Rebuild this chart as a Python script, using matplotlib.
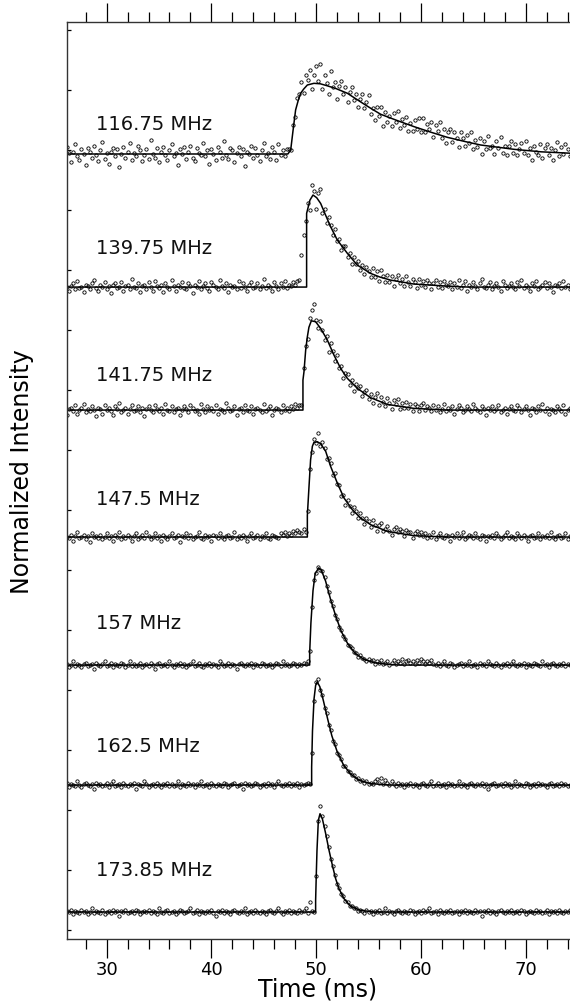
import matplotlib.pyplot as plt
import numpy as np
from matplotlib.ticker import MultipleLocator

plt.rcParams['font.family'] = ['DejaVu Sans']

# sampling step of the profiles (ms)
dt = 0.2

labels = ['116.75 MHz', '139.75 MHz', '141.75 MHz', '147.5 MHz',
          '157 MHz', '162.5 MHz', '173.85 MHz']
# vertical offsets of each profile (intensity units)
offsets = [6.467, 5.358, 4.333, 3.275, 2.208, 1.208, 0.15]
# time of first sample in each pulse list (ms)
pulse_start = [47.4, 48.4, 48.6, 48.8, 49.4, 49.6, 50.0]

# ---- measured points, in hundredths of the intensity unit ----
# 116.75 MHz
pre1 = [3, -4, 6, 1, -7, 2, 8, -2, -5, 4, 0, -9, 5, 2, -3, 7, -1, -6, 3, 10,
        -4, 1, -8, 2, 5, -2, 4, -11, 0, 6, -3, 2, 9, -5, 1, -2, 7, 3, -6, -1,
        4, -4, 12, 0, -3, 5, -7, 2, 6, -1, -5, 3, 8, -2, 1, -9, 4, 0, 6, -4,
        2, 7, -3, -6, 5, 1, -1, 9, -2, 3, -8, 4, 0, -5, 6, 2, -3, 11, -1, -4,
        5, 3, -7, 1, 6, -2, 4, -10, 2, 0, 7, -3, 5, -1, -6, 3, 9, -2, 1, -4,
        6, 2, -5, 8, -1, 3, -2, 4]
pulse1 = [4, 3, 24, 31, 47, 50, 60, 51, 66, 62, 70, 54, 66, 73, 61, 75, 54, 66,
          59, 50, 69, 56, 60, 46, 57, 61, 50, 56, 43, 52, 56, 45, 50, 39, 46, 50,
          38, 43, 49, 33, 38, 28, 39, 32, 39, 23, 35, 27, 32, 23, 34, 27, 36, 22,
          29, 24, 31, 19, 26, 19, 28, 21, 30, 18, 30, 18, 25, 21, 27, 14, 24, 19,
          27, 13, 21, 9, 18, 21, 10, 18, 13, 6, 18, 13, 7, 16, 9, 18, 4, 12, 6,
          13, 0, 11, 4, 15, 5, 7, 0, 11, 5, 14, 1, 7, -1, 7, 11, 1, 8, -1, 4, 9,
          1, 11, -1, 5, -5, 7, 2, -1, 8, -3, 5, 8, -1, 5, -5, 3, 10, -2, 6, 0, 8,
          4, -2, 6]
post1 = []

# 139.75 MHz
pre2 = [2, -1, 4, 0, -3, 1, 3, -2, 5, -1, 0, -4, 2, 1, -2, 3, 6, -1, -3, 2,
        0, 4, -2, 1, -5, 2, 3, -1, 0, 4, -3, 1, 2, -2, 7, 0, -1, 3, -4, 1,
        2, -2, 4, 0, -3, 5, 1, -1, 2, -4, 3, 0, -2, 6, 1, -3, 2, 0, 4, -1,
        -2, 3, 1, -5, 2, 0, 5, -2, 1, 3, -1, -3, 4, 2, 0, -2, 6, 1, -1, 3,
        -4, 2, 0, 1, -2, 5, -1, 3, 0, -3, 2, 4, -1, 0, 3, -2, 1, 7, -1, 2,
        0, -3, 4, 1, -2, 3, 0, 5, -1, 2, 1, 4, 2, 5]
pulse2 = [6, 27, 43, 55, 70, 64, 85, 80, 65, 78, 82, 62, 65, 53, 58, 52, 43, 48,
          38, 40, 31, 34, 34, 25, 28, 19, 25, 19, 22, 14, 18, 11, 17, 13, 8, 16,
          8, 13, 5, 14, 9, 4, 10, 4, 9, 1, 7, 10, 3, 7, 1, 9, 4, 1, 7, 4, -1, 7,
          2, 5, 0, 6, 3, -2, 3, 6, 0, 4, -1, 5, 2]
post2 = [1, 4, -2, 3, 0, 6, -1, 2, 5, -3, 2, 0, 4, 1, -2, 3, 7, 0, -1, 2,
         4, -2, 1, 3, 0, -3, 5, 2, -1, 1, 3, 0, -2, 4, 1, 6, -1, 2, 0, -3,
         3, 1, 5, -2, 0, 2, 4, -1, 3, 0, -4, 2, 1, 3, -1, 5, 0, 2, -2, 4,
         1, -3, 2, 0]

# 141.75 MHz
pre3 = [-2, 3, 0, -4, 1, 2, -1, 4, -3, 0, 2, 5, -2, 1, -1, 3, 0, -5, 2, 1,
        -3, 4, 0, 2, -1, -4, 3, 1, 6, -2, 0, 2, -3, 1, 4, -1, 0, 3, -2, 2,
        -5, 1, 3, 0, -2, 4, 1, -1, 2, -3, 5, 0, -1, 3, -2, 1, 2, -4, 0, 3,
        1, -2, 4, 2, -1, 0, -3, 5, 1, -2, 3, 0, 2, -1, 4, -3, 1, 0, -2, 6,
        2, -1, 0, 3, -4, 1, 2, -2, 4, 0, -1, 3, -3, 1, 2, 0, -2, 5, -1, 1,
        3, -4, 0, 2, 1, -2, 4, 0, 2, -1, 3, 1, 5, 2, 4]
pulse3 = [4, 35, 53, 59, 77, 83, 88, 75, 68, 74, 67, 58, 62, 48, 56, 49, 41, 46,
          35, 37, 27, 31, 30, 21, 25, 16, 22, 18, 20, 12, 15, 17, 9, 13, 6, 11,
          14, 4, 11, 7, 3, 10, 6, 1, 8, 5, 9, 1, 6, 2, 7, 2, 5, -1, 5, 3, -1, 4,
          6, 0, 3]
post3 = [2, -1, 4, 0, 3, -2, 1, 5, -1, 2, 0, 3, -3, 1, 4, 2, -2, 0, 3, 1,
         -1, 5, 2, 0, -2, 3, 1, -4, 2, 0, 3, -1, 1, 4, -2, 0, 2, -3, 1, 3,
         0, -1, 4, 2, -2, 1, 3, 0, -4, 2, 1, -2, 3, 0, 5, -1, 2, -3, 1, 0,
         -2, 3, 1, -1, 4, -3, 0, 2, 1, -2, 3, -1]

# 147.5 MHz
pre4 = [1, -2, 3, 0, -1, 2, -3, 1, 4, -1, 0, 2, -2, 1, -4, 3, 0, 1, -1, 2,
        -2, 0, 3, -1, 1, -3, 2, 0, 4, -2, 1, -1, 2, 0, -3, 1, 3, -2, 0, 2,
        -1, 4, 1, -2, 0, 3, -1, 1, -3, 2, 0, -2, 1, 3, -1, 0, 2, -4, 1, 0,
        3, -1, 2, -2, 0, 1, 4, -1, -2, 2, 0, 1, -3, 2, 1, -1, 3, 0, -2, 1,
        2, -1, 0, 4, -2, 1, -1, 2, 0, -3, 1, 3, -1, 0, 2, -2, 1, 0, 3, -1,
        -2, 2, 1, 0, -1, 3, 2, 4, 1, 3, 2, 5, 3, 6, 4, 3]
pulse4 = [7, 4, 22, 57, 71, 82, 78, 87, 76, 79, 74, 65, 66, 62, 52, 53, 44, 43,
          34, 35, 27, 31, 26, 20, 25, 22, 16, 20, 16, 11, 16, 13, 8, 14, 10, 5,
          10, 12, 5, 7, 9, 5, 2, 7, 8, 4, 7, 5, 1, 6, 4, 4, -1, 3, 5, 2, 4]
post4 = [1, 3, -1, 2, 0, 4, -2, 1, 3, 0, -1, 2, 1, -3, 2, 0, 3, -1, 1, 4,
         -2, 0, 2, 1, -1, 3, 0, -2, 2, 1, -3, 1, 0, 2, -1, 3, 1, -2, 0, 2,
         4, -1, 1, 0, -2, 3, 1, -1, 2, 0, -3, 1, 2, -1, 0, 3, -2, 1, 0, 2,
         -1, 4, 0, -2, 1, 2, -1, 0, 3, -2, 1, 0, 2, -1, 1]

# 157 MHz
pre5 = [0, 2, -1, 1, -2, 0, 3, -1, 1, 0, -2, 1, 2, -1, 0, 1, -3, 2, 0, -1,
        1, 3, -1, 0, 2, -2, 1, 0, -1, 2, 1, -2, 0, 3, -1, 1, -1, 0, 2, -2,
        0, 1, -1, 2, 0, -3, 1, 2, -1, 0, 1, -1, 3, 0, -2, 1, 0, 2, -1, 1,
        -2, 0, 1, 3, -1, 0, 2, -1, -2, 1, 0, 2, -1, 1, 0, -2, 3, 1, -1, 0,
        2, -1, 1, 0, -3, 1, 2, 0, -1, 1, 0, 2, -2, 1, 0, -1, 2, 1, -1, 0,
        1, -2, 0, 2, 1, -1, 3, 0, 1, -1, 0, 2, 1, -1, 1, 0, 2, 1, 3]
pulse5 = [12, 48, 71, 77, 82, 79, 78, 73, 66, 61, 53, 49, 42, 38, 32, 29, 24,
          22, 17, 16, 14, 11, 10, 7, 8, 6, 5, 3, 5, 3, 4, 1, 3, 2, 4, 1, 2, 3, 0]
post5 = [2, 4, 1, 3, 2, 5, 1, 3, 4, 2, 3, 1, 4, 2, 5, 3, 1, 3, 2, 4,
         1, 0, 2, -1, 1, 3, 0, -1, 2, 1, -2, 0, 1, 2, -1, 1, 0, 3, -1, 0,
         1, -2, 2, 0, 1, -1, 3, 1, 0, -1, 2, 0, -2, 1, 0, 2, -1, 1, 3, 0,
         -1, 1, 0, 2, -2, 1, 0, -1, 2, 1, 0, -1, 3, 0, 1, -2, 1, 2, 0, -1,
         1, 0, 2, -1, 1, 0, -2, 2, 1, 0]

# 162.5 MHz
pre6 = [1, -1, 0, 2, -2, 1, 0, -1, 3, 0, -2, 1, 2, 0, -1, 1, -3, 2, 0, 1,
        -1, 0, 2, -2, 1, 3, -1, 0, 1, -2, 2, 0, -1, 1, 0, 2, -3, 1, 0, -1,
        3, 1, -2, 0, 1, -1, 2, 0, -2, 1, 0, 2, -1, 1, -1, 0, 3, -2, 1, 0,
        -1, 2, 0, 1, -2, 1, 0, 3, -1, 0, 1, -2, 2, 0, -1, 1, 0, -1, 2, 1,
        -2, 0, 1, 2, -1, 0, 1, -3, 2, 0, 1, -1, 0, 2, 1, -2, 0, 1, -1, 2,
        0, 1, -2, 1, 3, 0, -1, 1, 0, 2, -1, 1, 0, 2, -2, 1, 0, 1, 2, 1]
pulse6 = [27, 70, 86, 88, 79, 75, 64, 60, 50, 46, 37, 34, 27, 25, 22, 16, 16,
          12, 11, 8, 8, 5, 6, 3, 4, 2, 3, 1, 2, 1]
post6 = [3, 5, 2, 6, 1, 4, 2, 0, 3, 1, -1, 2, 0, 1, -2, 1, 0, 2, -1, 1,
         0, -2, 1, 2, 0, -1, 1, 3, -1, 0, 2, -1, 0, 1, -2, 2, 0, 1, -1, 0,
         3, -1, 1, 0, -2, 1, 2, 0, -1, 1, 0, 2, -1, 1, -3, 0, 1, 2, -1, 0,
         1, -1, 2, 0, 1, -2, 0, 3, -1, 1, 0, -1, 2, 1, -2, 0, 1, -1, 2, 0,
         1, 0, -2, 1, 2, -1, 0, 1, -1, 2, 0, 1, -1, 0, 2, -2, 1, 0]

# 173.85 MHz
pre7 = [-1, 1, 0, 2, -2, 1, 0, -1, 2, 0, 1, -2, 0, 3, -1, 1, 0, -1, 2, -2,
        0, 1, -1, 2, 0, 1, -3, 1, 0, 2, -1, 0, 1, -1, 2, 1, -2, 0, 1, 0,
        2, -1, 1, 0, -2, 3, 0, -1, 1, 2, -1, 0, 1, -2, 0, 2, 1, -1, 0, 1,
        3, -1, 0, 2, -2, 1, 0, -1, 1, 0, 2, -1, -3, 1, 0, 2, -1, 1, 0, -2,
        1, 2, 0, -1, 1, 0, 3, -2, 0, 1, -1, 2, 0, -1, 1, 0, -2, 1, 2, 0,
        -1, 1, 3, 0, -2, 1, 0, 2, -1, 1, 0, -1, 2, 0, 1, 3, -1, 8, 1, 0]
pulse7 = [30, 76, 88, 80, 72, 63, 54, 44, 38, 31, 23, 20, 15, 13, 9, 8, 5, 5,
          3, 3, 1, 2]
post7 = [1, -1, 2, 0, 1, -2, 1, 0, 2, -1, 0, 3, -1, 1, 0, -2, 1, 2, 0, -1,
         1, 0, -1, 2, 1, -2, 0, 1, -1, 2, 0, 1, 3, -1, 0, 1, -2, 2, 0, -1,
         1, 0, 2, -1, 0, 1, -2, 1, 0, 2, -1, 1, 0, -1, 2, 0, 1, -3, 1, 0,
         2, -1, 1, 0, -2, 1, 2, 0, -1, 1, 0, 2, -1, 0, 1, -1, 2, 1, -2, 0,
         1, 0, -1, 2, 0, 1, -1, 0, 2, -2, 1, 0, 1, -1, 2, 0, -1, 1, 0, 2,
         -1, 1, 0, 2]

# ---- fitted profiles (ms, intensity) ----
fit1_t = [26.0, 47.3, 47.57, 47.8, 48.04, 48.3, 48.52, 48.8, 49.16, 49.79, 50.4,
          51.0, 51.9, 52.98, 53.7, 54.5, 55.3, 56.16, 57.7, 59.34, 60.9, 62.52,
          64.1, 65.7, 67.3, 68.88, 71.5, 74.6]
fit1_v = [0, 0, 0.033, 0.2, 0.367, 0.45, 0.506, 0.54, 0.575, 0.589, 0.585,
          0.57, 0.545, 0.506, 0.465, 0.42, 0.376, 0.331, 0.28, 0.228, 0.183,
          0.139, 0.106, 0.075, 0.057, 0.039, 0.018, 0.005]
fit2_t = [26.0, 49.09, 49.09, 49.41, 49.7, 50.05, 50.43, 50.9, 51.38, 52.02,
          52.98, 53.93, 55.2, 56.1, 57.11, 59.34, 62.52, 64.5, 74.6]
fit2_v = [0, 0, 0.614, 0.725, 0.767, 0.745, 0.697, 0.6, 0.503, 0.392, 0.281,
          0.183, 0.114, 0.083, 0.058, 0.025, 0.008, 0, 0]
fit3_t = [26.0, 48.74, 48.74, 48.84, 49.0, 49.16, 49.31, 49.54, 49.95, 50.43,
          51.07, 51.7, 52.34, 52.98, 53.93, 55.2, 56.8, 59.34, 62.52, 74.6]
fit3_v = [0, 0, 0.25, 0.32, 0.5, 0.61, 0.69, 0.744, 0.736, 0.681, 0.583, 0.458,
          0.347, 0.264, 0.181, 0.103, 0.047, 0.014, 0, 0]
fit4_t = [26.0, 49.16, 49.16, 49.31, 49.47, 49.64, 49.79, 50.11, 50.43, 50.91,
          51.38, 52.02, 52.66, 53.45, 54.25, 55.2, 56.8, 59.34, 62.52, 74.6]
fit4_v = [0, 0, 0.18, 0.408, 0.644, 0.756, 0.789, 0.794, 0.778, 0.714, 0.589,
          0.45, 0.325, 0.228, 0.158, 0.103, 0.047, 0.011, 0, 0]
fit5_t = [26.0, 49.38, 49.38, 49.5, 49.7, 49.9, 50.24, 50.5, 50.9, 51.4, 51.9,
          52.4, 53.0, 53.7, 54.5, 55.5, 57.0, 58.0, 74.6]
fit5_v = [0, 0, 0.1, 0.35, 0.62, 0.76, 0.81, 0.79, 0.7, 0.54, 0.4, 0.28, 0.18,
          0.1, 0.05, 0.02, 0.005, 0, 0]
fit6_t = [26.0, 49.57, 49.57, 49.65, 49.8, 49.95, 50.1, 50.35, 50.7, 51.1,
          51.5, 52.0, 52.6, 53.3, 54.1, 55.2, 57.0, 74.6]
fit6_v = [0, 0, 0.15, 0.45, 0.72, 0.83, 0.86, 0.82, 0.7, 0.55, 0.41, 0.28,
          0.17, 0.09, 0.04, 0.012, 0, 0]
fit7_t = [26.0, 49.95, 49.95, 50.02, 50.08, 50.21, 50.37, 50.59, 50.91, 51.23,
          51.55, 51.86, 52.18, 52.66, 53.29, 54.25, 55.52, 74.6]
fit7_v = [0, 0, 0.097, 0.333, 0.514, 0.764, 0.819, 0.778, 0.653, 0.514, 0.389,
          0.278, 0.194, 0.111, 0.047, 0.014, 0, 0]

pres = [pre1, pre2, pre3, pre4, pre5, pre6, pre7]
pulses = [pulse1, pulse2, pulse3, pulse4, pulse5, pulse6, pulse7]
posts = [post1, post2, post3, post4, post5, post6, post7]
fits = [(fit1_t, fit1_v), (fit2_t, fit2_v), (fit3_t, fit3_v), (fit4_t, fit4_v),
        (fit5_t, fit5_v), (fit6_t, fit6_v), (fit7_t, fit7_v)]

# label height above each baseline
label_dy = [0.245, 0.32, 0.29, 0.31, 0.35, 0.325, 0.35]

fig = plt.figure(figsize=(5.7, 10.08), dpi=100)
ax = fig.add_axes([66.5 / 570, 69 / 1008, 506 / 570, 917 / 1008])

for k in range(len(labels)):
    t0 = pulse_start[k]
    pv = np.array(pulses[k]) / 100
    pt = t0 + dt * np.arange(len(pv))
    bv = np.array(pres[k]) / 100
    bt = t0 - dt * np.arange(len(bv), 0, -1)
    av = np.array(posts[k]) / 100
    at = pt[-1] + dt * np.arange(1, len(av) + 1)
    t = np.concatenate([bt, pt, at])
    v = np.concatenate([bv, pv, av])
    ax.plot(t, v + offsets[k], 'o', ms=2.4, mfc='none', mec='black', mew=0.6)
    ft, fv = fits[k]
    ax.plot(ft, np.array(fv) + offsets[k], '-', color='black', lw=1.1)
    ax.text(28.95, offsets[k] + label_dy[k], labels[k], fontsize=14,
            ha='left', va='center', color='#111111')

ax.set_xlim(26.17, 74.47)
ax.set_ylim(-0.075, 7.567)
ax.xaxis.set_major_locator(MultipleLocator(10))
ax.xaxis.set_minor_locator(MultipleLocator(2))
ax.set_yticks(np.arange(0, 7.6, 0.5))
ax.tick_params(axis='x', which='major', direction='out', length=14, width=0.9,
               top=True, labelsize=13, pad=2)
ax.tick_params(axis='x', which='minor', direction='out', length=7.5,
               width=0.9, top=True)
ax.tick_params(axis='y', direction='in', length=3, width=0.9,
               labelleft=False)
for s in ax.spines.values():
    s.set_linewidth(1.0)
    s.set_color('#333333')

fig.text(318 / 570, 1 - 990 / 1008, 'Time (ms)', fontsize=17, ha='center',
         va='center')
fig.text(22 / 570, 1 - 472 / 1008, 'Normalized Intensity', fontsize=17,
         rotation=90, ha='center', va='center')

fig.savefig('out.png', dpi=100)
